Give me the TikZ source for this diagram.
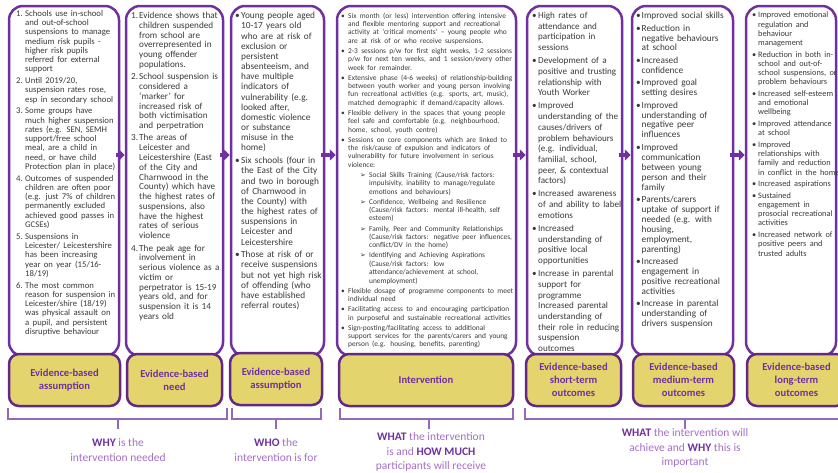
\documentclass[tikz,border=0pt]{standalone}
\usepackage{fontspec}
\setmainfont{Carlito}
\newfontfamily\djv{DejaVu Sans}
\usetikzlibrary{arrows.meta,calc}
\definecolor{pur}{RGB}{112,48,160}
\definecolor{purd}{RGB}{98,40,132}
\definecolor{purl}{RGB}{165,112,200}
\definecolor{brkc}{RGB}{150,105,182}
\definecolor{yel}{RGB}{228,212,110}
\definecolor{txt}{RGB}{58,58,58}
\newlength\lw \newlength\gp
\newcommand{\li}[2]{\hangindent=\lw\hangafter=1\noindent\makebox[\lw][l]{#1}#2\par\vspace{\gp}}
\newcommand{\sli}[1]{\hangindent=28pt\hangafter=1\noindent\hspace*{19pt}\makebox[9pt][l]{\djv\fontsize{7}{7}\selectfont ➢}#1\par\vspace{\gp}}
\def\nl{\hfil\break}
\tikzset{
 wbox/.style={draw=pur, line width=2.5pt, rounded corners=14pt, fill=white, inner sep=0pt},
 ybox/.style={draw=purd, line width=2.5pt, rounded corners=10pt, fill=yel, inner sep=0pt,
   font=\fontsize{10.6}{13}\selectfont\bfseries, text=pur, align=center},
 body/.style={anchor=north west, inner sep=0pt, text width=#1, text=txt},
 arr/.style={pur, line width=3.5pt, -{Triangle[length=6pt,width=11pt]}},
 brkt/.style={brkc, line width=1.8pt},
 lab/.style={align=center, text=purl, font=\fontsize{11.5}{14.5}\selectfont}
}
\begin{document}
\begin{tikzpicture}[x=1pt,y=-1pt]
\clip (0,0) rectangle (838,472);
\fill[white] (0,0) rectangle (838,472);
% white boxes
\node[wbox, minimum width=110pt, minimum height=350pt] (w1) at (64,181) {};
\node[wbox, minimum width=97pt, minimum height=350pt] (w2) at (174.5,181) {};
\node[wbox, minimum width=93pt, minimum height=350pt] (w3) at (277.5,181) {};
\node[wbox, minimum width=179pt, minimum height=350pt] (w4) at (426.5,181) {};
\node[wbox, minimum width=95pt, minimum height=350pt] (w5) at (574.5,181) {};
\node[wbox, minimum width=101pt, minimum height=350pt] (w6) at (682.5,181) {};
\node[wbox, minimum width=90pt, minimum height=350pt] (w7) at (791,181) {};
% yellow boxes
\node[ybox, minimum width=111pt, minimum height=52pt] (y1) at (64.5,380) {Evidence-based\\assumption};
\node[ybox, minimum width=95pt, minimum height=52pt] (y2) at (174.5,380) {Evidence-based\\need};
\node[ybox, minimum width=92pt, minimum height=52pt] (y3) at (276,379) {Evidence-based\\assumption};
\node[ybox, minimum width=174pt, minimum height=52pt] (y4) at (426,380) {Intervention};
\node[ybox, minimum width=95pt, minimum height=52pt] (y5) at (573.5,380) {Evidence-based\\short-term\\outcomes};
\node[ybox, minimum width=101pt, minimum height=52pt] (y6) at (683.5,380) {Evidence-based\\medium-term\\outcomes};
\node[ybox, minimum width=99pt, minimum height=52pt] (y7) at (796.5,380) {Evidence-based\\long-term\\outcomes};
% arrows
\coordinate (ay) at (0,155);
\draw[arr] ([xshift=-4pt]w1.east |- ay) -- (w2.west |- ay);
\draw[arr] ([xshift=-4pt]w2.east |- ay) -- (w3.west |- ay);
\draw[arr] ([xshift=-4pt]w3.east |- ay) -- (w4.west |- ay);
\draw[arr] ([xshift=-4pt]w4.east |- ay) -- (w5.west |- ay);
\draw[arr] ([xshift=-4pt]w5.east |- ay) -- (w6.west |- ay);
\draw[arr] ([xshift=-4pt]w6.east |- ay) -- (w7.west |- ay);
% column texts
\node[body=120pt] (t1) at (16,10) {\fontsize{8.7}{9.26}\selectfont\setlength\lw{9pt}\setlength\gp{2.5pt}%
\li{1.}{Schools use in-school\nl and out-of-school\nl suspensions to manage\nl medium risk pupils -\nl higher risk pupils\nl referred for external\nl support}
\li{2.}{Until 2019/20,\nl suspension rates rose,\nl esp in secondary school}
\li{3.}{Some groups have\nl much higher suspension\nl rates (e.g. SEN, SEMH\nl support/free school\nl meal, are a child in\nl need, or have child\nl Protection plan in place)}
\li{4.}{Outcomes of suspended\nl children are often poor\nl (e.g. just 7\% of children\nl permanently excluded\nl achieved good passes in\nl GCSEs)}
\li{5.}{Suspensions in\nl Leicester/ Leicestershire\nl has been increasing\nl year on year (15/16-\nl 18/19)}
\li{6.}{The most common\nl reason for suspension in\nl Leicester/shire (18/19)\nl was physical assault on\nl a pupil, and persistent\nl disruptive behaviour}};
\node[body=110pt] (t2) at (131,12) {\fontsize{9.2}{9.78}\selectfont\setlength\lw{8pt}\setlength\gp{2.5pt}%
\li{1.}{Evidence shows that\nl children suspended\nl from school are\nl overrepresented in\nl young offender\nl populations.}
\li{2.}{School suspension is\nl considered a\nl ‘marker’ for\nl increased risk of\nl both victimisation\nl and perpetration}
\li{3.}{The areas of\nl Leicester and\nl Leicestershire (East\nl of the City and\nl Charnwood in the\nl County) which have\nl the highest rates of\nl suspensions, also\nl have the highest\nl rates of serious\nl violence}
\li{4.}{The peak age for\nl involvement in\nl serious violence as a\nl victim or\nl perpetrator is 15-19\nl years old, and for\nl suspension it is 14\nl years old}};
\node[body=110pt] (t3) at (235,12) {\fontsize{9.3}{10.18}\selectfont\setlength\lw{6pt}\setlength\gp{2.5pt}%
\li{•}{Young people aged\nl 10-17 years old\nl who are at risk of\nl exclusion or\nl persistent\nl absenteeism, and\nl have multiple\nl indicators of\nl vulnerability (e.g.\nl looked after,\nl domestic violence\nl or substance\nl misuse in the\nl home)}
\li{•}{Six schools (four in\nl the East of the City\nl and two in borough\nl of Charnwood in\nl the County) with\nl the highest rates of\nl suspensions in\nl Leicester and\nl Leicestershire}
\li{•}{Those at risk of or\nl receive suspensions\nl but not yet high risk\nl of offending (who\nl have established\nl referral routes)}};
\node[body=200pt] (t4) at (341,12.5) {\fontsize{7.4}{8.35}\selectfont\setlength\lw{7pt}\setlength\gp{1.8pt}%
\li{•}{Six month (or less) intervention offering intensive\nl and flexible mentoring support and recreational\nl activity at ‘critical moments’ – young people who\nl are at risk of or who receive suspensions.}
\li{•}{2-3 sessions p/w for first eight weeks, 1-2 sessions\nl p/w for next ten weeks, and 1 session/every other\nl week for remainder.}
\li{•}{Extensive phase (4-6 weeks) of relationship-building\nl between youth worker and young person involving\nl fun recreational activities (e.g. sports, art, music),\nl matched demographic if demand/capacity allows.}
\li{•}{Flexible delivery in the spaces that young people\nl feel safe and comfortable (e.g. neighbourhood,\nl home, school, youth centre)}
\li{•}{Sessions on core components which are linked to\nl the risk/cause of expulsion and indicators of\nl vulnerability for future involvement in serious\nl violence:}
\sli{Social Skills Training (Cause/risk factors:\nl impulsivity, inability to manage/regulate\nl emotions and behaviours)}
\sli{Confidence, Wellbeing and Resilience\nl (Cause/risk factors: mental ill-health, self\nl esteem)}
\sli{Family, Peer and Community Relationships\nl (Cause/risk factors: negative peer influences,\nl conflict/DV in the home)}
\sli{Identifying and Achieving Aspirations\nl (Cause/risk factors: low\nl attendance/achievement at school,\nl unemployment)}
\li{•}{Flexible dosage of programme components to meet\nl individual need}
\li{•}{Facilitating access to and encouraging participation\nl in purposeful and sustainable recreational activities}
\li{•}{Sign-posting/facilitating access to additional\nl support services for the parents/carers and young\nl person (e.g. housing, benefits, parenting)}};
\node[body=110pt] (t5) at (532,12) {\fontsize{9.1}{10.68}\selectfont\setlength\lw{6pt}\setlength\gp{2.5pt}%
\li{•}{High rates of\nl attendance and\nl participation in\nl sessions}
\li{•}{Development of a\nl positive and trusting\nl relationship with\nl Youth Worker}
\li{•}{Improved\nl understanding of the\nl causes/drivers of\nl problem behaviours\nl (e.g. individual,\nl familial, school,\nl peer, \& contextual\nl factors)}
\li{•}{Increased awareness\nl of and ability to label\nl emotions}
\li{•}{Increased\nl understanding of\nl positive local\nl opportunities}
\li{•}{Increase in parental\nl support for\nl programme\nl Increased parental\nl understanding of\nl their role in reducing\nl suspension\nl outcomes}};
\node[body=110pt] (t6) at (636,12) {\fontsize{9.3}{9.93}\selectfont\setlength\lw{5.5pt}\setlength\gp{2.5pt}%
\li{•}{Improved social skills}
\li{•}{Reduction in\nl negative behaviours\nl at school}
\li{•}{Increased\nl confidence}
\li{•}{Improved goal\nl setting desires}
\li{•}{Improved\nl understanding of\nl negative peer\nl influences}
\li{•}{Improved\nl communication\nl between young\nl person and their\nl family}
\li{•}{Parents/carers\nl uptake of support if\nl needed (e.g. with\nl housing,\nl employment,\nl parenting)}
\li{•}{Increased\nl engagement in\nl positive recreational\nl activities}
\li{•}{Increase in parental\nl understanding of\nl drivers suspension}};
\node[body=110pt] (t7) at (752,12) {\fontsize{8.3}{9.19}\selectfont\setlength\lw{6pt}\setlength\gp{2.5pt}%
\li{•}{Improved emotional\nl regulation and\nl behaviour\nl management}
\li{•}{Reduction in both in-\nl school and out-of-\nl school suspensions, or\nl problem behaviours}
\li{•}{Increased self-esteem\nl and emotional\nl wellbeing}
\li{•}{Improved attendance\nl at school}
\li{•}{Improved\nl relationships with\nl family and reduction\nl in conflict in the home}
\li{•}{Increased aspirations}
\li{•}{Sustained\nl engagement in\nl prosocial recreational\nl activities}
\li{•}{Increased network of\nl positive peers and\nl trusted adults}};
% brackets
\coordinate (b1a) at (8,408);  \coordinate (b1b) at (227,408); \coordinate (b1m) at (118,419); \coordinate (b1t) at (118,429);
\coordinate (b2a) at (232,408); \coordinate (b2b) at (321,408); \coordinate (b2m) at (276,419); \coordinate (b2t) at (276,429);
\coordinate (b3a) at (340,408); \coordinate (b3b) at (513,408); \coordinate (b3m) at (429,419); \coordinate (b3t) at (429,429);
\coordinate (b4a) at (525,408); \coordinate (b4b) at (846,408); \coordinate (b4m) at (685,419); \coordinate (b4t) at (685,429);
\foreach \b in {b1,b2,b3,b4}{
 \draw[brkt] (\b a) |- (\b m) -| (\b b);
 \draw[brkt] (\b m) -- (\b t);
}
% labels
\node[lab] (l1) at (118,450) {\textcolor{pur}{\textbf{WHY}} is the\\intervention needed};
\node[lab] (l2) at (276,450) {\textcolor{pur}{\textbf{WHO}} the\\intervention is for};
\node[lab] (l3) at (431,452) {\textcolor{pur}{\textbf{WHAT}} the intervention\\is and \textcolor{pur}{\textbf{HOW MUCH}}\\participants will receive};
\node[lab] (l4) at (685,448) {\textcolor{pur}{\textbf{WHAT}} the intervention will\\achieve and \textcolor{pur}{\textbf{WHY}} this is\\important};
\end{tikzpicture}
\end{document}
